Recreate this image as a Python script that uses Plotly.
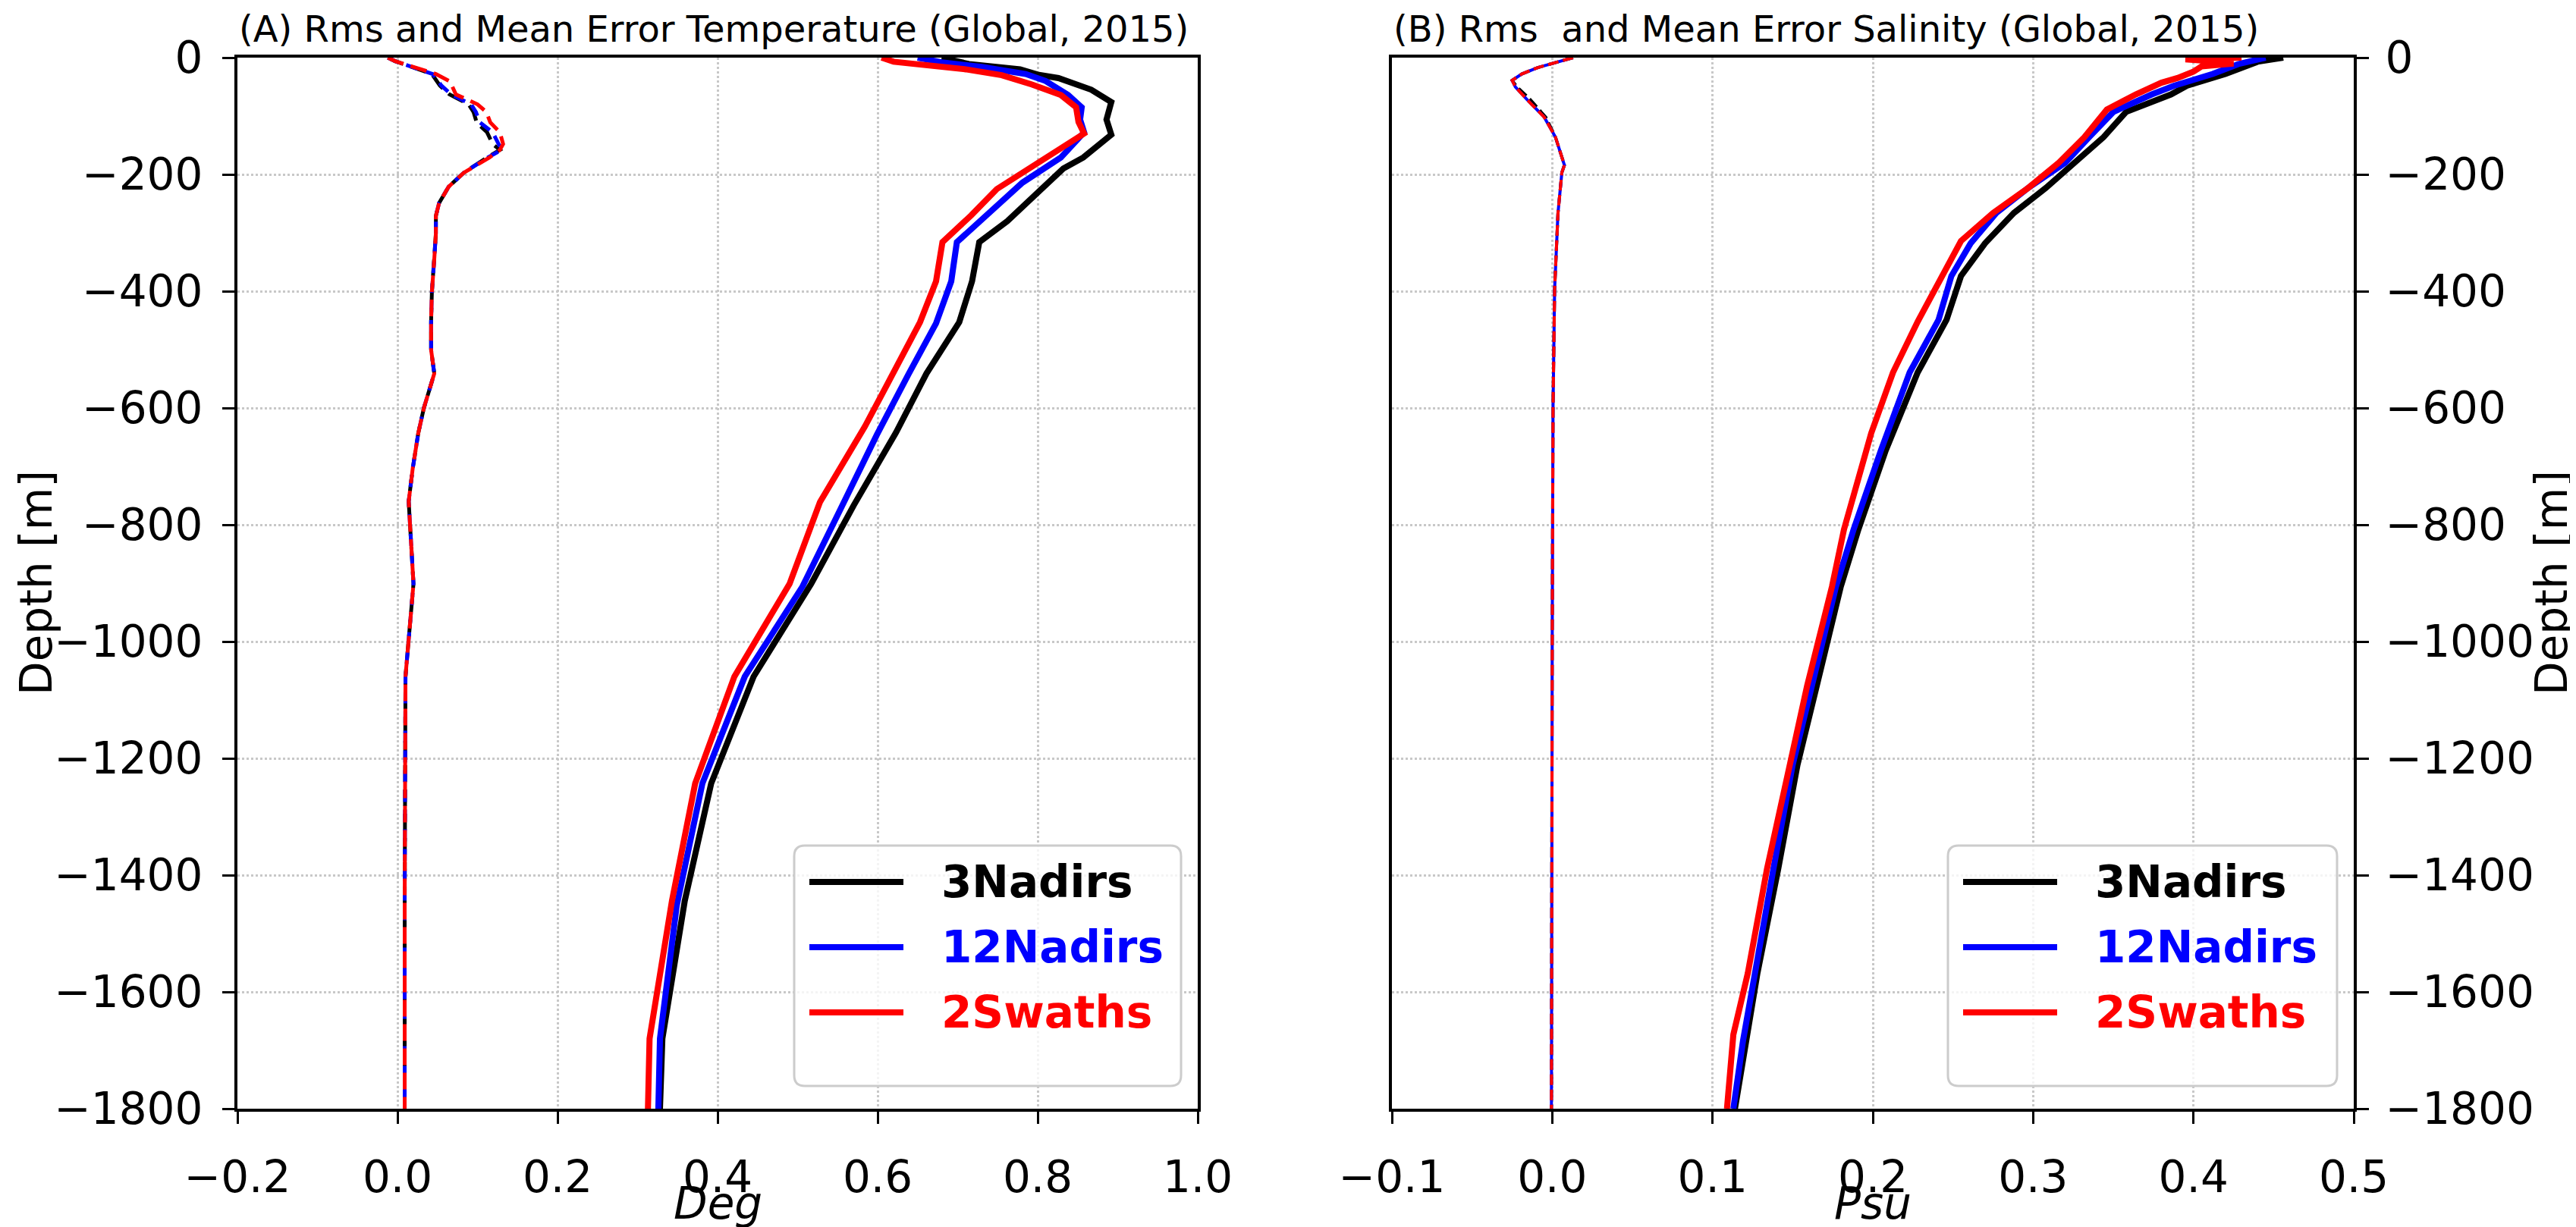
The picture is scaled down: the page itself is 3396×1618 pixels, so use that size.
import plotly.graph_objects as go

W, H = 3396, 1618

# ---- Temperature RMS (panel A)
depth_t_black = [0, -8, -11, -20, -29, -35, -55, -76, -106, -132, -171, -190, -236, -280, -316,
                 -383, -453, -541, -642, -767, -901, -1060, -1243, -1444, -1680, -1800]
rms_t_black = [0.68, 0.70, 0.714, 0.778, 0.80, 0.826, 0.867, 0.892, 0.886, 0.892, 0.857, 0.832, 0.797,
               0.762, 0.727, 0.718, 0.702, 0.661, 0.623, 0.570, 0.517, 0.445, 0.392, 0.359, 0.331, 0.328]

depth_t_blue = [0, -8, -16, -28, -40, -64, -85, -106, -128, -171, -214, -266, -316, -383, -455,
                -541, -646, -772, -906, -1060, -1243, -1452, -1680, -1800]
rms_t_blue = [0.65, 0.68, 0.73, 0.785, 0.81, 0.838, 0.855, 0.853, 0.858, 0.829, 0.781, 0.739, 0.699,
              0.692, 0.673, 0.639, 0.599, 0.554, 0.506, 0.434, 0.381, 0.349, 0.328, 0.326]

depth_t_red = [0, -7, -20, -30, -46, -64, -85, -110, -130, -154, -190, -225, -270, -316, -383, -453,
               -557, -632, -761, -901, -1060, -1243, -1444, -1680, -1800]
rms_t_red = [0.605, 0.62, 0.71, 0.755, 0.793, 0.829, 0.848, 0.851, 0.858, 0.83, 0.787, 0.749, 0.717,
             0.681, 0.673, 0.653, 0.613, 0.584, 0.528, 0.490, 0.421, 0.372, 0.343, 0.315, 0.313]

# ---- Temperature mean error (panel A, dashed)
depth_mt = [0, -6, -28, -41, -48, -63, -80, -93, -111, -128, -148, -158, -171, -197, -221, -249, -271,
            -301, -345, -401, -453, -500, -541, -600, -643, -704, -760, -800, -901, -1060, -1243,
            -1444, -1680, -1800]
mean_t_black = [-0.012, -0.003, 0.043, 0.050, 0.053, 0.065, 0.089, 0.095, 0.099, 0.112, 0.119, 0.128,
                0.112, 0.083, 0.064, 0.052, 0.048, 0.048, 0.046, 0.043, 0.042, 0.042, 0.046, 0.033,
                0.026, 0.019, 0.014, 0.016, 0.020, 0.010, 0.009, 0.009, 0.009, 0.009]
mean_t_blue = [-0.012, -0.003, 0.044, 0.052, 0.055, 0.067, 0.092, 0.098, 0.103, 0.119, 0.126, 0.130,
               0.113, 0.083, 0.064, 0.052, 0.048, 0.048, 0.046, 0.043, 0.042, 0.042, 0.046, 0.033,
               0.026, 0.019, 0.014, 0.016, 0.020, 0.010, 0.009, 0.009, 0.009, 0.009]
mean_t_red = [-0.012, -0.003, 0.048, 0.066, 0.068, 0.073, 0.100, 0.111, 0.116, 0.128, 0.132, 0.128,
              0.115, 0.083, 0.064, 0.052, 0.048, 0.048, 0.046, 0.043, 0.042, 0.042, 0.046, 0.033,
              0.026, 0.019, 0.014, 0.016, 0.020, 0.010, 0.009, 0.009, 0.009, 0.009]

# ---- Salinity RMS (panel B)
depth_s_black = [0, -7, -28, -48, -63, -93, -136, -180, -223, -266, -318, -374, -449, -539, -673,
                 -808, -906, -1076, -1211, -1389, -1568, -1684, -1800]
rms_s_black = [0.456, 0.440, 0.420, 0.396, 0.386, 0.358, 0.344, 0.326, 0.308, 0.288, 0.270, 0.255,
               0.246, 0.228, 0.208, 0.191, 0.180, 0.165, 0.153, 0.141, 0.128, 0.121, 0.114]

depth_s_blue = [0, -11, -28, -48, -63, -93, -136, -180, -223, -266, -318, -374, -449, -539, -673,
                -808, -906, -1076, -1211, -1389, -1568, -1684, -1800]
rms_s_blue = [0.445, 0.428, 0.412, 0.388, 0.374, 0.350, 0.335, 0.320, 0.297, 0.277, 0.261, 0.249,
              0.241, 0.223, 0.205, 0.188, 0.177, 0.162, 0.150, 0.138, 0.126, 0.119, 0.113]

depth_s_red = [0, -3, -6, -10, -15, -24, -35, -43, -63, -89, -136, -180, -223, -266, -314, -374, -452,
               -539, -643, -808, -906, -1076, -1211, -1389, -1568, -1673, -1800]
rms_s_red = [0.43, 0.395, 0.41, 0.425, 0.405, 0.400, 0.390, 0.380, 0.364, 0.346, 0.332, 0.316, 0.297,
             0.275, 0.255, 0.243, 0.228, 0.2126, 0.199, 0.182, 0.1745, 0.159, 0.148, 0.134, 0.122,
             0.113, 0.109]

# ---- Salinity mean error (panel B, dashed)
depth_ms = [0, -5, -11, -17, -28, -39, -50, -71, -102, -136, -184, -197, -266, -396, -600, -1000, -1800]
mean_s_black = [0.013, 0.006, -0.001, -0.009, -0.019, -0.025, -0.022, -0.014, -0.004, 0.002, 0.0076,
                0.006, 0.0036, 0.0015, 0.0005, 0.0, -0.0005]
mean_s_blue = [0.013, 0.006, -0.001, -0.009, -0.019, -0.025, -0.023, -0.016, -0.005, 0.002, 0.0076,
               0.006, 0.0036, 0.0015, 0.0005, 0.0, -0.0005]
mean_s_red = [0.013, 0.006, -0.001, -0.009, -0.019, -0.025, -0.023, -0.016, -0.005, 0.002, 0.0076,
              0.006, 0.0036, 0.0015, 0.0005, 0.0, -0.0005]

names = ["3Nadirs", "12Nadirs", "2Swaths"]
colors = ["black", "blue", "red"]

xt_ticks = [-0.2, 0.0, 0.2, 0.4, 0.6, 0.8, 1.0]
xs_ticks = [-0.1, 0.0, 0.1, 0.2, 0.3, 0.4, 0.5]
y_ticks = [0, -200, -400, -600, -800, -1000, -1200, -1400, -1600, -1800]

FONT = "DejaVu Sans"


def px(x):
    return x / W


def py(y):
    return 1 - y / H


fig = go.Figure()

rms_t = [(depth_t_black, rms_t_black), (depth_t_blue, rms_t_blue), (depth_t_red, rms_t_red)]
mean_t = [mean_t_black, mean_t_blue, mean_t_red]
rms_s = [(depth_s_black, rms_s_black), (depth_s_blue, rms_s_blue), (depth_s_red, rms_s_red)]
mean_s = [mean_s_black, mean_s_blue, mean_s_red]

for (d, v), c, n in zip(rms_t, colors, names):
    fig.add_trace(go.Scatter(x=v, y=d, mode="lines", name=n, line=dict(color=c, width=8),
                             xaxis="x", yaxis="y", showlegend=False))
for v, c, dsh in zip(mean_t, colors, ["22px,10px", "16px,10px", "22px,10px"]):
    fig.add_trace(go.Scatter(x=v, y=depth_mt, mode="lines", line=dict(color=c, width=5, dash=dsh),
                             xaxis="x", yaxis="y", showlegend=False))
for (d, v), c, n in zip(rms_s, colors, names):
    fig.add_trace(go.Scatter(x=v, y=d, mode="lines", name=n, line=dict(color=c, width=8),
                             xaxis="x2", yaxis="y2", showlegend=False))
for v, c, dsh in zip(mean_s, colors, ["14px,6px", "solid", "14px,6px"]):
    fig.add_trace(go.Scatter(x=v, y=depth_ms, mode="lines", line=dict(color=c, width=4, dash=dsh),
                             xaxis="x2", yaxis="y2", showlegend=False))

axis_common = dict(showline=True, linecolor="black", linewidth=4, mirror=True,
                   ticks="outside", ticklen=16, tickwidth=3, tickcolor="black",
                   showgrid=True, gridcolor="#c8c8c8", gridwidth=3, griddash="dot",
                   zeroline=False, tickfont=dict(family=FONT, size=58, color="black"),
                   ticklabelstandoff=14, automargin=False)

y_dom = [py(1454), py(68)]

fig.update_layout(
    width=W, height=H,
    margin=dict(l=0, r=0, t=0, b=0),
    paper_bgcolor="white", plot_bgcolor="white",
    font=dict(family=FONT, color="black"),
    xaxis=dict(axis_common, domain=[px(305), px(1571)], range=[-0.2, 1.0],
               tickvals=xt_ticks, tickformat=".1f", anchor="y", ticklabelstandoff=20),
    yaxis=dict(axis_common, domain=y_dom, range=[-1800, 0], tickvals=y_ticks, anchor="x"),
    xaxis2=dict(axis_common, domain=[px(1827), px(3095)], range=[-0.1, 0.5],
                tickvals=xs_ticks, tickformat=".1f", anchor="y2", ticklabelstandoff=20),
    yaxis2=dict(axis_common, domain=y_dom, range=[-1800, 0], tickvals=y_ticks, anchor="x2",
                side="right", ticklabelstandoff=10),
)

label_font = dict(family=FONT, size=58, color="black")

# axis titles
fig.add_annotation(text="<i>Deg</i>", xref="paper", yref="paper", x=px(938), y=py(1579),
                   xanchor="center", yanchor="middle", showarrow=False, font=label_font)
fig.add_annotation(text="<i>Psu</i>", xref="paper", yref="paper", x=px(2461), y=py(1579),
                   xanchor="center", yanchor="middle", showarrow=False, font=label_font)
fig.add_annotation(text="Depth [m]", xref="paper", yref="paper", x=px(40), y=py(761), textangle=-90,
                   xanchor="center", yanchor="middle", showarrow=False, font=label_font)
fig.add_annotation(text="Depth [m]", xref="paper", yref="paper", x=px(3356), y=py(761), textangle=-90,
                   xanchor="center", yanchor="middle", showarrow=False, font=label_font)

# panel titles
fig.add_annotation(text="(A) Rms and Mean Error Temperature (Global, 2015)", xref="paper", yref="paper",
                   x=px(305), y=py(60), xanchor="left", yanchor="bottom", showarrow=False,
                   font=dict(family=FONT, size=48, color="black"))
fig.add_annotation(text="(B) Rms\u00a0 and Mean Error Salinity (Global, 2015)", xref="paper", yref="paper",
                   x=px(1827), y=py(60), xanchor="left", yanchor="bottom", showarrow=False,
                   font=dict(family=FONT, size=48, color="black"))


# legends drawn by hand so the line samples keep matplotlib's long shape
def rounded_box(x0, y0, x1, y1, r=14):
    rx, ry = r / W, r / H
    X0, X1, Y0, Y1 = px(x0), px(x1), py(y0), py(y1)
    return (f"M{X0 + rx},{Y0} L{X1 - rx},{Y0} Q{X1},{Y0} {X1},{Y0 - ry} "
            f"L{X1},{Y1 + ry} Q{X1},{Y1} {X1 - rx},{Y1} L{X0 + rx},{Y1} "
            f"Q{X0},{Y1} {X0},{Y1 + ry} L{X0},{Y0 - ry} Q{X0},{Y0} {X0 + rx},{Y0} Z")


row_y = [1155, 1241, 1327]
for bx0, bx1 in [(1039, 1549), (2560, 3073)]:
    fig.add_shape(type="path", path=rounded_box(bx0, 1107, bx1, 1424), xref="paper", yref="paper",
                  line=dict(color="#cccccc", width=3), fillcolor="rgba(255,255,255,0.8)", layer="above")
    lx0 = bx0 + 20
    for yy, c, n in zip(row_y, colors, names):
        fig.add_shape(type="line", x0=px(lx0), x1=px(lx0 + 124), y0=py(yy), y1=py(yy),
                      xref="paper", yref="paper", line=dict(color=c, width=8), layer="above")
        fig.add_annotation(text=f"<b>{n}</b>", xref="paper", yref="paper", x=px(lx0 + 172), y=py(yy),
                           xanchor="left", yanchor="middle", showarrow=False,
                           font=dict(family=FONT, size=58, color=c))

fig.write_html("out.html")
